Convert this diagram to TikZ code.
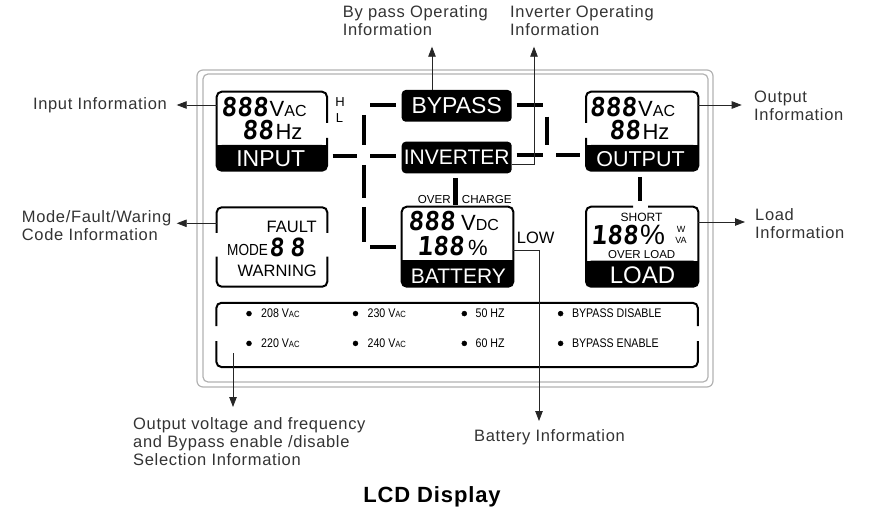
\documentclass[tikz,border=0pt]{standalone}
\usepackage{fontspec}
\setmainfont{Liberation Sans}
\newfontfamily\infofont{Liberation Sans}[LetterSpace=4.0]
\newfontfamily\lcdfont{Liberation Sans}
\newfontfamily\narrowfont{Liberation Sans}[FakeStretch=0.85]
\newfontfamily\segfont{DejaVu Sans Mono}[FakeSlant=0.08]
\usepackage{tikz}
\usetikzlibrary{positioning, arrows.meta}

\newcommand{\fsz}[1]{\fontsize{#1}{#1}\selectfont}
\newcommand{\segdig}[2][26]{{\segfont\bfseries\fsz{#1}#2}}
\newcommand{\unitlbl}[2]{{\fsz{22}#1}{\fsz{16}#2}}

\begin{document}
\begin{tikzpicture}[x=1pt, y=-1pt,
    boxarea/.style={rectangle, inner sep=0pt, outer sep=0pt},
    lcdedge/.style={line width=2pt, rounded corners=5pt},
    segment/.style={line width=4pt},
    lcdtag/.style={rectangle, fill=black, text=white, rounded corners=4pt, inner sep=0pt, outer sep=0pt},
    bandtext/.style={text=white, inner sep=0pt},
    lcdtext/.style={inner sep=0pt, font=\lcdfont},
    info/.style={inner sep=0pt, align=left, text=black!80, font={\infofont\fontsize{16.5}{18}\selectfont}},
    lead/.style={draw=black!85, line width=0.8pt, -{Triangle[length=10pt, width=7.5pt]}},
    optlbl/.style={inner sep=0pt, anchor=west, font={\narrowfont\fsz{12.5}}}
  ]
    \useasboundingbox (0,0) rectangle (870,513);

    % frame of the display
    \draw [gray!60, line width=1.2pt, rounded corners=6pt] (197,70) rectangle (713,387);
    \draw [gray!60, line width=1.2pt, rounded corners=5pt] (203,74) rectangle (708,382);

    % areas of the boxes
    \node[boxarea, minimum width=110.3pt, minimum height=79pt] (inbox) at (271.85,131.2) {};
    \node[boxarea, minimum width=112.3pt, minimum height=79pt] (outbox) at (642.15,131.2) {};
    \node[boxarea, minimum width=110.6pt, minimum height=79.4pt] (modebox) at (272,247) {};
    \node[boxarea, minimum width=111.6pt, minimum height=80pt] (batbox) at (457.5,246.7) {};
    \node[boxarea, minimum width=112.3pt, minimum height=80pt] (loadbox) at (642.15,246.7) {};
    \node[boxarea, minimum width=481.4pt, minimum height=64.2pt] (selbox) at (457.1,334.9) {};

    % input box
    \draw [lcdedge] ([yshift=-31.3pt]inbox.north east) -- (inbox.north east) -- (inbox.north west)
      -- (inbox.south west) -- (inbox.south east) -- ([yshift=32.7pt]inbox.south east);
    \fill [rounded corners=5pt] (inbox.south west) rectangle ([yshift=25.7pt]inbox.south east);
    \fill ([yshift=25.7pt]inbox.south west) rectangle ([yshift=14pt]inbox.south east);
    \node[lcdtext, anchor=base west] (inrow1) at (221,116.2) {\segdig{888}\hspace{1.5pt}\unitlbl{V}{AC}};
    \node[lcdtext, anchor=base west] (inrow2) at (242,140) {\segdig{88}\hspace{2pt}{\fsz{22}Hz}};
    \node[bandtext, anchor=base, font={\lcdfont\fsz{23}}] (inlbl) at (270.8,166.7) {INPUT};
    \node[lcdtext, font={\lcdfont\fsz{13}}] (hmark) at (340,101.7) {H};
    \node[lcdtext, font={\lcdfont\fsz{13}}] (lmark) at (339.5,118) {L};

    % output box
    \draw [lcdedge] ([yshift=-31.3pt]outbox.north west) -- (outbox.north west) -- (outbox.north east)
      -- (outbox.south east) -- (outbox.south west) -- ([yshift=32.7pt]outbox.south west);
    \fill [rounded corners=5pt] (outbox.south west) rectangle ([yshift=25.7pt]outbox.south east);
    \fill ([yshift=25.7pt]outbox.south west) rectangle ([yshift=14pt]outbox.south east);
    \node[lcdtext, anchor=base west] (outrow1) at (589.5,116.2) {\segdig{888}\hspace{1.5pt}\unitlbl{V}{AC}};
    \node[lcdtext, anchor=base west] (outrow2) at (609,140) {\segdig{88}\hspace{2pt}{\fsz{22}Hz}};
    \node[bandtext, anchor=base, font={\lcdfont\fsz{21.5}}] (outlbl) at (640.5,166.7) {OUTPUT};

    % bypass and inverter
    \node[lcdtag, minimum width=110pt, minimum height=31.7pt, font={\lcdfont\fsz{23}}] (bypass) at (456.7,105.85) {BYPASS};
    \node[lcdtag, minimum width=110pt, minimum height=31.6pt, font={\lcdfont\fsz{21}}] (inverter) at (456.7,157.5) {INVERTER};

    % mode box
    \draw [lcdedge] ([yshift=-25.7pt]modebox.north west) -- (modebox.north west) -- (modebox.north east) -- ([yshift=-25.7pt]modebox.north east);
    \draw [lcdedge] ([yshift=30pt]modebox.south west) -- (modebox.south west) -- (modebox.south east) -- ([yshift=30pt]modebox.south east);
    \node[lcdtext, anchor=base east, font={\lcdfont\fsz{16.5}}] (fault) at (317,233) {FAULT};
    \node[lcdtext, anchor=base west, font={\narrowfont\fsz{16}}] (mode) at (227,255) {MODE};
    \node[lcdtext, anchor=base west] (modedig) at (269,256.7) {{\segfont\bfseries\fsz{25}\addfontfeature{LetterSpace=22}88}};
    \node[lcdtext, anchor=base east, font={\lcdfont\fsz{16.5}}] (warning) at (317,276.7) {WARNING};

    % battery box
    \draw [lcdedge] (batbox.north west) rectangle (batbox.south east);
    \fill [rounded corners=5pt] (batbox.south west) rectangle ([yshift=26.7pt]batbox.south east);
    \fill ([yshift=26.7pt]batbox.south west) rectangle ([yshift=14pt]batbox.south east);
    \node[lcdtext, anchor=base west] (batrow1) at (408,230) {\segdig{888}\hspace{6pt}\unitlbl{V}{DC}};
    \node[lcdtext, anchor=base west] (batrow2) at (417,255) {\segdig{188}\hspace{4pt}{\fsz{22}\%}};
    \node[bandtext, anchor=base, font={\lcdfont\fsz{21}}] (batlbl) at (458.4,283) {BATTERY};
    \node[lcdtext, anchor=base, font={\lcdfont\fsz{11.6}}] (over) at (434.2,203.3) {OVER};
    \node[lcdtext, anchor=base, font={\lcdfont\fsz{11.6}}] (charge) at (486.7,203.3) {CHARGE};
    \node[lcdtext, anchor=base west, font={\lcdfont\fsz{16.5}}] (low) at (516.7,243.3) {LOW};

    % load box
    \draw [lcdedge] ([xshift=47pt]loadbox.north west) -- (loadbox.north west) -- (loadbox.south west)
      -- (loadbox.south east) -- (loadbox.north east) -- ([xshift=-50.3pt]loadbox.north east);
    \fill [rounded corners=5pt] (loadbox.south west) rectangle ([yshift=26pt]loadbox.south east);
    \fill ([yshift=26pt]loadbox.south west) rectangle ([yshift=14pt]loadbox.south east);
    \node[lcdtext, anchor=base, font={\lcdfont\fsz{12}}] (short) at (641.5,221.2) {SHORT};
    \node[lcdtext, anchor=base west] (loadrow) at (591,244.5) {\segdig{188}\hspace{2pt}{\fsz{28}\%}};
    \node[lcdtext, font={\lcdfont\fsz{9}}] (wmark) at (681,229) {W};
    \node[lcdtext, font={\lcdfont\fsz{9}}] (vamark) at (681,240) {VA};
    \node[lcdtext, anchor=base, font={\lcdfont\fsz{11.5}}] (overload) at (641.7,258.5) {OVER LOAD};
    \node[bandtext, anchor=base, font={\lcdfont\fsz{24}}] (loadlbl) at (642.5,283) {LOAD};

    % selection box
    \draw [lcdedge] ([yshift=-23.2pt]selbox.north west) -- (selbox.north west) -- (selbox.north east) -- ([yshift=-23.2pt]selbox.north east);
    \draw [lcdedge] ([yshift=26pt]selbox.south west) -- (selbox.south west) -- (selbox.south east) -- ([yshift=26pt]selbox.south east);

    % first row of choices
    \filldraw (249,313.6) circle (2.5pt);
    \node[optlbl] (v208) at (261,313.6) {208 V{\fsz{9}AC}};
    \filldraw (355.5,313.6) circle (2.5pt);
    \node[optlbl] (v230) at (367.4,313.6) {230 V{\fsz{9}AC}};
    \filldraw (464.3,313.6) circle (2.5pt);
    \node[optlbl] (hz50) at (475.5,313.6) {50 HZ};
    \filldraw (560.6,313.6) circle (2.5pt);
    \node[optlbl] (bpoff) at (571.8,313.6) {BYPASS DISABLE};

    % second row of choices
    \filldraw (249,343.4) circle (2.5pt);
    \node[optlbl] (v220) at (261,343.4) {220 V{\fsz{9}AC}};
    \filldraw (355.5,343.4) circle (2.5pt);
    \node[optlbl] (v240) at (367.4,343.4) {240 V{\fsz{9}AC}};
    \filldraw (464.3,343.4) circle (2.5pt);
    \node[optlbl] (hz60) at (475.5,343.4) {60 HZ};
    \filldraw (560.6,343.4) circle (2.5pt);
    \node[optlbl] (bpon) at (571.8,343.4) {BYPASS ENABLE};

    % segments of the flow lines
    \draw [segment] (370,105) -- (396,105);
    \draw [segment] (516.7,105) -- (542.7,105);
    \draw [segment] (547.3,116.7) -- (547.3,145);
    \draw [segment] (516.7,155.5) -- (542.7,155.5);
    \draw [segment] (556,155.5) -- (580,155.5);
    \draw [segment] (332.7,155.7) -- (356.7,155.7);
    \draw [segment] (370,155.7) -- (396,155.7);
    \draw [segment] (364,115) -- (364,145);
    \draw [segment] (364,165) -- (364,198);
    \draw [segment] (364,207) -- (364,242);
    \draw [segment] (370,246.7) -- (396,246.7);
    \draw [segment, line width=5pt] (455.7,178) -- (455.7,205);
    \draw [segment] (640,177) -- (640,201);

    % labels round the display
    \node[info, anchor=east] (ininfo) at (167,105) {Input Information};
    \node[info, anchor=west] (modeinfo) at (21.7,226) {Mode/Fault/Waring\\Code Information};
    \node[info, anchor=north west] (bypassinfo) at (342.7,5.5) {By pass Operating\\Information};
    \node[info, anchor=north west] (invinfo) at (510,5.5) {Inverter Operating\\Information};
    \node[info, anchor=north west] (outinfo) at (754,91) {Output\\Information};
    \node[info, anchor=north west] (loadinfo) at (755,208) {Load\\Information};
    \node[info, anchor=north west] (selinfo) at (133,417) {Output voltage and frequency\\and Bypass enable /disable\\Selection Information};
    \node[info, anchor=west] (batinfo) at (474,437) {Battery Information};

    % arrow tips
    \coordinate (intip) at (176.7,105);
    \coordinate (modetip) at (176.7,223.3);
    \coordinate (bypasstip) at (432,46.7);
    \coordinate (invtip) at (534,46.7);
    \coordinate (outtip) at (741.7,105);
    \coordinate (loadtip) at (745,222);
    \coordinate (seltip) at (233,407);
    \coordinate (battip) at (539,421);

    % leader arrows
    \draw [lead] (inbox.west |- intip) -- (intip);
    \draw [lead] (modebox.west |- modetip) -- (modetip);
    \draw [lead] (bypass.north -| bypasstip) -- (bypasstip);
    \draw [lead] ([yshift=-6.5pt]inverter.east) -| (invtip);
    \draw [lead] (outbox.east |- outtip) -- (outtip);
    \draw [lead] (loadbox.east |- loadtip) -- (loadtip);
    \draw [lead] ([yshift=14pt]seltip |- selbox.south) -- (seltip);
    \draw [lead] ([yshift=-3.3pt]batbox.east) -| (battip);

    % title
    \node[inner sep=0pt, anchor=base, font={\infofont\bfseries\fsz{22}}] (title) at (432,502) {LCD Display};

\end{tikzpicture}
\end{document}
